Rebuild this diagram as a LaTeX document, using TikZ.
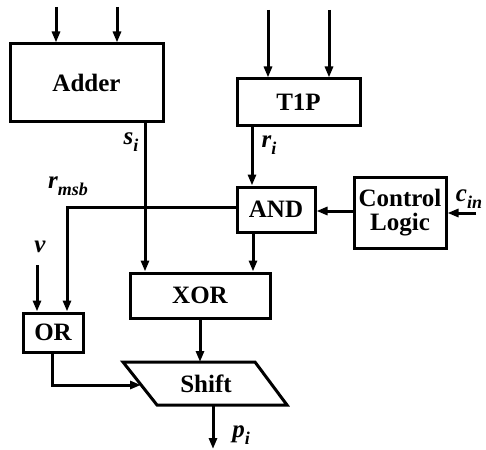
\documentclass[tikz,border=0pt]{standalone}
\usepackage{fontspec}
\setmainfont{Liberation Serif}
\usetikzlibrary{arrows.meta}
\newcommand{\sig}[2]{\textbf{\textit{#1}}\raisebox{-0.28em}{\fontsize{18}{18}\selectfont\textbf{\textit{#2}}}}
\begin{document}
\begin{tikzpicture}[x=1pt,y=-1pt,
  blk/.style={draw, line width=3pt, inner sep=0pt, font=\fontsize{25}{24}\selectfont\bfseries, align=center},
  wire/.style={line width=3pt},
  arr/.style={wire, -{Triangle[length=11pt,width=8pt]}},
  lbl/.style={inner sep=0pt, font=\fontsize{25}{25}\selectfont}]
\useasboundingbox (0,0) rectangle (486,449);
% blocks
\node[blk, minimum width=153pt, minimum height=78pt] (adder) at (86.5,83) {Adder};
\node[blk, minimum width=123pt, minimum height=47pt] (t1p) at (298.5,102.5) {T1P};
\node[blk, minimum width=78pt, minimum height=45pt] (and) at (276,209.5) {AND};
\node[blk, minimum width=92pt, minimum height=71pt] (ctl) at (400,212.5) {Control\\Logic};
\node[blk, minimum width=140pt, minimum height=45pt] (xor) at (200,295.5) {XOR};
\node[blk, minimum width=60pt, minimum height=39pt] (or) at (53,332.5) {OR};
% shift parallelogram
\coordinate (s1) at (123,362);
\coordinate (s2) at (255,362);
\coordinate (s3) at (287,405);
\coordinate (s4) at (157,405);
\draw[line width=3pt, line join=miter] (s1) -- (s2) -- (s3) -- (s4) -- cycle;
\node[inner sep=0pt, font=\fontsize{25}{24}\selectfont\bfseries] (shift) at (206,384) {Shift};
\coordinate (shl) at (141,385);
\coordinate (sht) at (200,362);
\coordinate (shb) at (213,405);
% free ends
\coordinate (a1) at (56,7);
\coordinate (a2) at (117,7);
\coordinate (t1) at (268,10);
\coordinate (t2) at (329,10);
\coordinate (cin) at (476,213);
\coordinate (vin) at (37,265);
\coordinate (pout) at (213,449);
\coordinate (sx) at (145,0);
\coordinate (rx) at (252,0);
\coordinate (ax) at (253,0);
\coordinate (mx) at (67,0);
\coordinate (my) at (0,207);
\coordinate (cy) at (0,211);
% connectors
\draw[arr] (a1) -- (a1 |- adder.north);
\draw[arr] (a2) -- (a2 |- adder.north);
\draw[arr] (t1) -- (t1 |- t1p.north);
\draw[arr] (t2) -- (t2 |- t1p.north);
\draw[arr] (adder.south -| sx) -- (xor.north -| sx);
\draw[arr] (t1p.south -| rx) -- (and.north -| rx);
\draw[arr] (ctl.west |- cy) -- (and.east |- cy);
\draw[arr] (cin) -- (cin -| ctl.east);
\draw[arr, line join=miter] (and.west |- my) -- (mx |- my) -- (or.north -| mx);
\draw[arr] (vin) -- (vin |- or.north);
\draw[arr] (and.south -| ax) -- (xor.north -| ax);
\draw[arr] (xor.south -| sht) -- (sht);
\draw[arr, line join=miter] (or.south -| 52,0) -- (52,385) -- (shl);
\draw[arr] (shb) -- (pout);
% labels
\node[lbl] (ls) at (131,142) {\sig{s}{i}};
\node[lbl] (lr) at (269,145) {\sig{r}{i}};
\node[lbl] (lm) at (68,186) {\sig{r}{msb}};
\node[lbl] (lv) at (40,247) {\textbf{\textit{v}}};
\node[lbl] (lc) at (469,199) {\sig{c}{in}};
\node[lbl] (lp) at (241,435) {\sig{p}{i}};
\end{tikzpicture}
\end{document}
